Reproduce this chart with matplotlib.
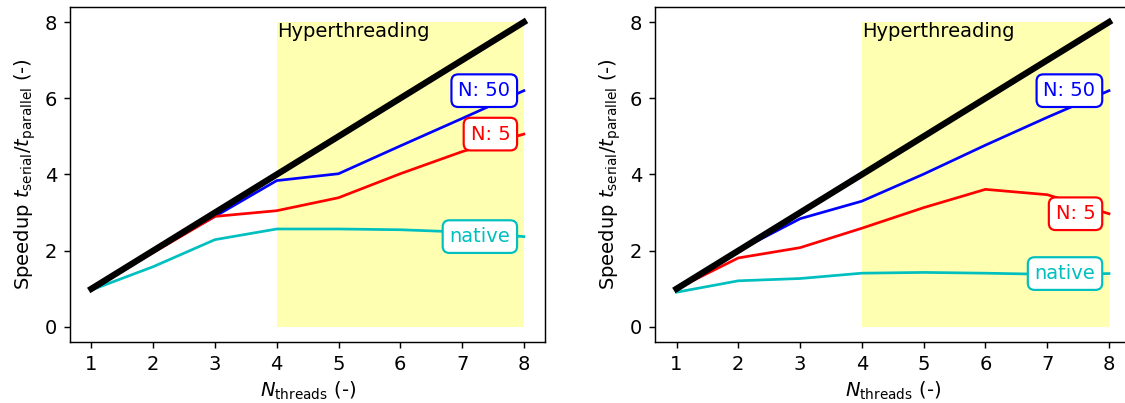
import numpy as np
import matplotlib
matplotlib.use('Agg')
import matplotlib.pyplot as plt

threads = [1, 2, 3, 4, 5, 6, 7, 8]

left_n50 = [1.0, 2.0, 2.90, 3.84, 4.02, 4.75, 5.47, 6.20]
left_n5 = [1.0, 1.95, 2.90, 3.05, 3.39, 4.02, 4.60, 5.06]
left_native = [0.97, 1.58, 2.29, 2.57, 2.57, 2.55, 2.49, 2.37]

right_n50 = [1.0, 2.0, 2.84, 3.30, 4.01, 4.77, 5.50, 6.20]
right_n5 = [1.0, 1.81, 2.08, 2.59, 3.13, 3.61, 3.47, 2.97]
right_native = [0.91, 1.21, 1.27, 1.41, 1.43, 1.41, 1.38, 1.40]

labels = ['N: 50', 'N: 5', 'native']
colors = ['b', 'r', 'c']

plt.rcParams['font.size'] = 10.8


def plot_speedup(ax, series):
    ax.fill_between([4, 8], 0, 8, color='yellow', alpha=0.3, linewidth=0)
    ax.text(4, 8, 'Hyperthreading', ha='left', va='top')
    ax.plot(threads, threads, color='k', linewidth=3.5, zorder=3)
    for y, lab, c in zip(series, labels, colors):
        ax.plot(threads, y, color=c, linewidth=1.5, zorder=2)
        ax.text(7.78, y[-1], lab, color=c, ha='right', va='center', zorder=4,
                bbox=dict(boxstyle='round,pad=0.35', fc='white', ec=c, lw=1.2))
    ax.set_xticks(threads)
    ax.set_yticks([0, 2, 4, 6, 8])
    ax.set_xlim(0.65, 8.35)
    ax.set_ylim(-0.4, 8.4)
    ax.set_xlabel(r'$N_{\mathrm{threads}}$ (-)', labelpad=3)
    ax.set_ylabel(r'Speedup $t_{\mathrm{serial}}/t_{\mathrm{parallel}}$ (-)')


fig, (ax1, ax2) = plt.subplots(1, 2, figsize=(1125 / 130, 403 / 130), dpi=130)
fig.subplots_adjust(left=0.062, right=1.005, top=0.983, bottom=0.151, wspace=0.23)
plot_speedup(ax1, [left_n50, left_n5, left_native])
plot_speedup(ax2, [right_n50, right_n5, right_native])
fig.savefig('out.png', dpi=130)
